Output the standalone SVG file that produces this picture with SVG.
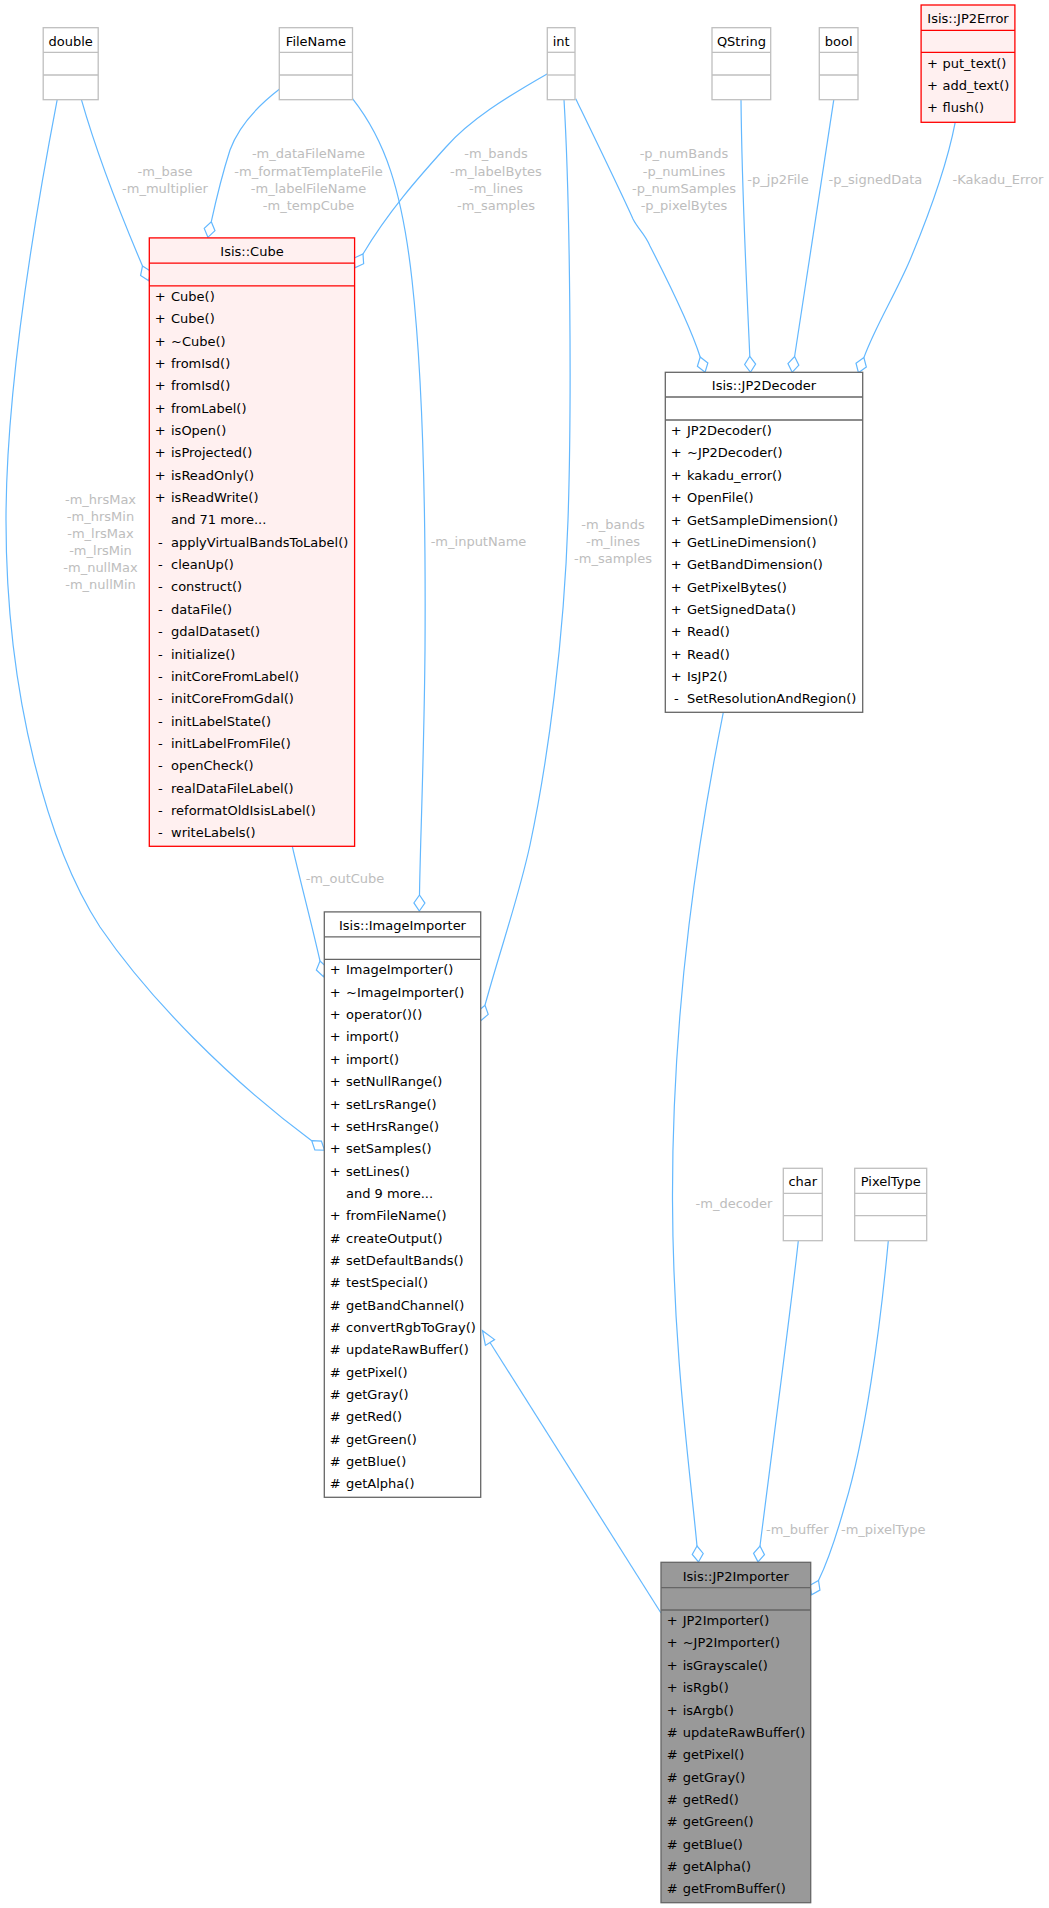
<svg xmlns="http://www.w3.org/2000/svg" width="1049" height="1908" viewBox="0 0 1049 1908">
<style>
text{font-family:"DejaVu Sans","Liberation Sans",sans-serif;font-size:13px;fill:#000}
.lbl{fill:#bdbdbd;text-anchor:middle}
.t{text-anchor:middle}
.s{text-anchor:middle}
.gb{fill:#fff;stroke:#bfbfbf;stroke-width:1.3}
.gl{stroke:#bfbfbf;stroke-width:1.3}
.rb{fill:#fff0f0;stroke:#ff0000;stroke-width:1.3}
.rl{stroke:#ff0000;stroke-width:1.3}
.wb{fill:#fff;stroke:#666;stroke-width:1.3}
.db{fill:#999;stroke:#666;stroke-width:1.3}
.dl{stroke:#666;stroke-width:1.3}
.e{fill:none;stroke:#63b8ff;stroke-width:1.2}
.agg{marker-end:url(#dia)}
.inh{marker-end:url(#tri)}
</style>
<defs>
<marker id="dia" markerUnits="userSpaceOnUse" markerWidth="18" markerHeight="13" viewBox="0 0 18 13" refX="1" refY="6.5" orient="auto" overflow="visible">
<path d="M1,6.5 L9,1 L17,6.5 L9,12 Z" fill="none" stroke="#63b8ff" stroke-width="1.2"/>
</marker>
<marker id="tri" markerUnits="userSpaceOnUse" markerWidth="16" markerHeight="13" viewBox="0 0 16 13" refX="1" refY="6.5" orient="auto" overflow="visible">
<path d="M1,1.1 L15,6.5 L1,11.9 Z" fill="#fff" stroke="#63b8ff" stroke-width="1.2"/>
</marker>
</defs>
<rect width="1049" height="1908" fill="#fff"/>

<g id="connectors">
<path class="e agg" d="M81.4,99.7 C100,165 125,225 142.5,266"/>
<path class="e agg" d="M57.2,99.7 C38,200 6,380 6,520 C6,700 50,850 100,927 C150,1000 230,1080 311.7,1140.7"/>
<path class="e agg" d="M279.3,89.3 C255,108 238,128 230,150 C222,175 216,200 211.3,221.7"/>
<path class="e agg" d="M352.5,98.7 C385,140 402,190 412,280 C422,370 426,500 425,650 C424,760 420,850 419.5,895"/>
<path class="e agg" d="M547.5,73.7 C505,98 470,120 446,147 C418,178 388,212 363,254"/>
<path class="e agg" d="M564,99.7 C570,200 572,400 568,520 C564,640 548,760 530,845 C518,900 500,950 485,1005.2"/>
<path class="e agg" d="M575.7,98.7 C585,118 620,190 633,219 C638,229 645,234 650,246 C670,285 690,325 700.2,357"/>
<path class="e agg" d="M741,99.7 C742,200 747,290 749.8,356.3"/>
<path class="e agg" d="M833.8,99.7 L794.6,356.5"/>
<path class="e agg" d="M955.2,122.3 C948,160 935,200 910,260 C895,295 875,327 863.9,357.6"/>
<path class="e agg" d="M292.3,846.3 C300,880 312,925 320,961"/>
<path class="e agg" d="M723.3,712.3 C700,830 672,1000 672.5,1200 C673,1350 690,1470 697,1546"/>
<path class="e agg" d="M798.3,1240.7 C792,1300 772,1450 760,1546"/>
<path class="e agg" d="M888.3,1240.7 C880,1330 865,1440 845,1505 C838,1530 828,1561 818.5,1580.5"/>
<path class="e inh" d="M661,1613 L490,1342.5"/>

<text class="lbl" x="165" y="175.7">-m_base</text>
<text class="lbl" x="165" y="192.7">-m_multiplier</text>
<text class="lbl" x="308.5" y="158.3">-m_dataFileName</text>
<text class="lbl" x="308.5" y="175.7">-m_formatTemplateFile</text>
<text class="lbl" x="308.5" y="192.7">-m_labelFileName</text>
<text class="lbl" x="308.5" y="209.7">-m_tempCube</text>
<text class="lbl" x="496" y="158.3">-m_bands</text>
<text class="lbl" x="496" y="175.7">-m_labelBytes</text>
<text class="lbl" x="496" y="192.7">-m_lines</text>
<text class="lbl" x="496" y="209.7">-m_samples</text>
<text class="lbl" x="684" y="158.3">-p_numBands</text>
<text class="lbl" x="684" y="175.7">-p_numLines</text>
<text class="lbl" x="684" y="192.7">-p_numSamples</text>
<text class="lbl" x="684" y="209.7">-p_pixelBytes</text>
<text class="lbl" x="778" y="184">-p_jp2File</text>
<text class="lbl" x="875.4" y="184">-p_signedData</text>
<text class="lbl" x="998" y="184">-Kakadu_Error</text>
<text class="lbl" x="100.5" y="504">-m_hrsMax</text>
<text class="lbl" x="100.5" y="521">-m_hrsMin</text>
<text class="lbl" x="100.5" y="538">-m_lrsMax</text>
<text class="lbl" x="100.5" y="555">-m_lrsMin</text>
<text class="lbl" x="100.5" y="572">-m_nullMax</text>
<text class="lbl" x="100.5" y="589">-m_nullMin</text>
<text class="lbl" x="478.5" y="546.3">-m_inputName</text>
<text class="lbl" x="613" y="529">-m_bands</text>
<text class="lbl" x="613" y="546">-m_lines</text>
<text class="lbl" x="613" y="563">-m_samples</text>
<text class="lbl" x="345" y="883">-m_outCube</text>
<text class="lbl" x="734" y="1208.3">-m_decoder</text>
<text class="lbl" x="797.3" y="1534">-m_buffer</text>
<text class="lbl" x="883.2" y="1534">-m_pixelType</text>
</g>

<g id="node-double">
<rect class="gb" x="43.2" y="27.7" width="55" height="72"/>
<line class="gl" x1="43.2" y1="52.3" x2="98.2" y2="52.3"/>
<line class="gl" x1="43.2" y1="75" x2="98.2" y2="75"/>
<text class="t" x="70.7" y="45.7">double</text>
</g>

<g id="node-FileName">
<rect class="gb" x="279.3" y="27.7" width="73.2" height="72"/>
<line class="gl" x1="279.3" y1="52.3" x2="352.5" y2="52.3"/>
<line class="gl" x1="279.3" y1="75" x2="352.5" y2="75"/>
<text class="t" x="315.9" y="45.7">FileName</text>
</g>

<g id="node-int">
<rect class="gb" x="547.3" y="27.7" width="27.7" height="72"/>
<line class="gl" x1="547.3" y1="52.3" x2="575" y2="52.3"/>
<line class="gl" x1="547.3" y1="75" x2="575" y2="75"/>
<text class="t" x="561.2" y="45.7">int</text>
</g>

<g id="node-QString">
<rect class="gb" x="712" y="27.7" width="58.7" height="72"/>
<line class="gl" x1="712" y1="52.3" x2="770.7" y2="52.3"/>
<line class="gl" x1="712" y1="75" x2="770.7" y2="75"/>
<text class="t" x="741.4" y="45.7">QString</text>
</g>

<g id="node-bool">
<rect class="gb" x="819.3" y="27.7" width="38.7" height="72"/>
<line class="gl" x1="819.3" y1="52.3" x2="858" y2="52.3"/>
<line class="gl" x1="819.3" y1="75" x2="858" y2="75"/>
<text class="t" x="838.7" y="45.7">bool</text>
</g>

<g id="node-JP2Error">
<rect class="rb" x="921.1" y="5" width="93.8" height="117.3"/>
<line class="rl" x1="921.1" y1="30.3" x2="1014.9" y2="30.3"/>
<line class="rl" x1="921.1" y1="52.3" x2="1014.9" y2="52.3"/>
<text class="t" x="968" y="22.8">Isis::JP2Error</text>
<text class="s" x="932.5" y="67.5">+</text><text x="942.5" y="67.5">put_text()</text>
<text class="s" x="932.5" y="89.8">+</text><text x="942.5" y="89.8">add_text()</text>
<text class="s" x="932.5" y="112">+</text><text x="942.5" y="112">flush()</text>
</g>

<g id="node-Cube">
<rect class="rb" x="149.3" y="237.9" width="205.3" height="608.4"/>
<line class="rl" x1="149.3" y1="263.2" x2="354.6" y2="263.2"/>
<line class="rl" x1="149.3" y1="285.8" x2="354.6" y2="285.8"/>
<text class="t" x="252" y="255.5">Isis::Cube</text>
<text class="s"><tspan x="160.3" y="300.9">+</tspan><tspan x="160.3" y="323.25">+</tspan><tspan x="160.3" y="345.6">+</tspan><tspan x="160.3" y="367.95">+</tspan><tspan x="160.3" y="390.3">+</tspan><tspan x="160.3" y="412.65">+</tspan><tspan x="160.3" y="435">+</tspan><tspan x="160.3" y="457.35">+</tspan><tspan x="160.3" y="479.7">+</tspan><tspan x="160.3" y="502.05">+</tspan><tspan x="160.3" y="546.75">-</tspan><tspan x="160.3" y="569.1">-</tspan><tspan x="160.3" y="591.45">-</tspan><tspan x="160.3" y="613.8">-</tspan><tspan x="160.3" y="636.15">-</tspan><tspan x="160.3" y="658.5">-</tspan><tspan x="160.3" y="680.85">-</tspan><tspan x="160.3" y="703.2">-</tspan><tspan x="160.3" y="725.55">-</tspan><tspan x="160.3" y="747.9">-</tspan><tspan x="160.3" y="770.25">-</tspan><tspan x="160.3" y="792.6">-</tspan><tspan x="160.3" y="814.95">-</tspan><tspan x="160.3" y="837.3">-</tspan></text>
<text><tspan x="171" y="300.9">Cube()</tspan><tspan x="171" y="323.25">Cube()</tspan><tspan x="171" y="345.6">~Cube()</tspan><tspan x="171" y="367.95">fromIsd()</tspan><tspan x="171" y="390.3">fromIsd()</tspan><tspan x="171" y="412.65">fromLabel()</tspan><tspan x="171" y="435">isOpen()</tspan><tspan x="171" y="457.35">isProjected()</tspan><tspan x="171" y="479.7">isReadOnly()</tspan><tspan x="171" y="502.05">isReadWrite()</tspan><tspan x="171" y="524.4">and 71 more...</tspan><tspan x="171" y="546.75">applyVirtualBandsToLabel()</tspan><tspan x="171" y="569.1">cleanUp()</tspan><tspan x="171" y="591.45">construct()</tspan><tspan x="171" y="613.8">dataFile()</tspan><tspan x="171" y="636.15">gdalDataset()</tspan><tspan x="171" y="658.5">initialize()</tspan><tspan x="171" y="680.85">initCoreFromLabel()</tspan><tspan x="171" y="703.2">initCoreFromGdal()</tspan><tspan x="171" y="725.55">initLabelState()</tspan><tspan x="171" y="747.9">initLabelFromFile()</tspan><tspan x="171" y="770.25">openCheck()</tspan><tspan x="171" y="792.6">realDataFileLabel()</tspan><tspan x="171" y="814.95">reformatOldIsisLabel()</tspan><tspan x="171" y="837.3">writeLabels()</tspan></text>
</g>

<g id="node-JP2Decoder">
<rect class="wb" x="665.3" y="372.3" width="197.4" height="340"/>
<line class="dl" x1="665.3" y1="397" x2="862.7" y2="397"/>
<line class="dl" x1="665.3" y1="420" x2="862.7" y2="420"/>
<text class="t" x="764" y="390.3">Isis::JP2Decoder</text>
<text class="s"><tspan x="676.3" y="435.1">+</tspan><tspan x="676.3" y="457.45">+</tspan><tspan x="676.3" y="479.8">+</tspan><tspan x="676.3" y="502.15">+</tspan><tspan x="676.3" y="524.5">+</tspan><tspan x="676.3" y="546.85">+</tspan><tspan x="676.3" y="569.2">+</tspan><tspan x="676.3" y="591.55">+</tspan><tspan x="676.3" y="613.9">+</tspan><tspan x="676.3" y="636.25">+</tspan><tspan x="676.3" y="658.6">+</tspan><tspan x="676.3" y="680.95">+</tspan><tspan x="676.3" y="703.3">-</tspan></text>
<text><tspan x="687" y="435.1">JP2Decoder()</tspan><tspan x="687" y="457.45">~JP2Decoder()</tspan><tspan x="687" y="479.8">kakadu_error()</tspan><tspan x="687" y="502.15">OpenFile()</tspan><tspan x="687" y="524.5">GetSampleDimension()</tspan><tspan x="687" y="546.85">GetLineDimension()</tspan><tspan x="687" y="569.2">GetBandDimension()</tspan><tspan x="687" y="591.55">GetPixelBytes()</tspan><tspan x="687" y="613.9">GetSignedData()</tspan><tspan x="687" y="636.25">Read()</tspan><tspan x="687" y="658.6">Read()</tspan><tspan x="687" y="680.95">IsJP2()</tspan><tspan x="687" y="703.3">SetResolutionAndRegion()</tspan></text>
</g>

<g id="node-ImageImporter">
<rect class="wb" x="324.3" y="911.9" width="156.4" height="585.4"/>
<line class="dl" x1="324.3" y1="936.8" x2="480.7" y2="936.8"/>
<line class="dl" x1="324.3" y1="959.3" x2="480.7" y2="959.3"/>
<text class="t" x="402.5" y="929.6">Isis::ImageImporter</text>
<text class="s"><tspan x="335.3" y="974.4">+</tspan><tspan x="335.3" y="996.75">+</tspan><tspan x="335.3" y="1019.1">+</tspan><tspan x="335.3" y="1041.45">+</tspan><tspan x="335.3" y="1063.8">+</tspan><tspan x="335.3" y="1086.15">+</tspan><tspan x="335.3" y="1108.5">+</tspan><tspan x="335.3" y="1130.85">+</tspan><tspan x="335.3" y="1153.2">+</tspan><tspan x="335.3" y="1175.55">+</tspan><tspan x="335.3" y="1220.25">+</tspan><tspan x="335.3" y="1242.6">#</tspan><tspan x="335.3" y="1264.95">#</tspan><tspan x="335.3" y="1287.3">#</tspan><tspan x="335.3" y="1309.65">#</tspan><tspan x="335.3" y="1332">#</tspan><tspan x="335.3" y="1354.35">#</tspan><tspan x="335.3" y="1376.7">#</tspan><tspan x="335.3" y="1399.05">#</tspan><tspan x="335.3" y="1421.4">#</tspan><tspan x="335.3" y="1443.75">#</tspan><tspan x="335.3" y="1466.1">#</tspan><tspan x="335.3" y="1488.45">#</tspan></text>
<text><tspan x="346" y="974.4">ImageImporter()</tspan><tspan x="346" y="996.75">~ImageImporter()</tspan><tspan x="346" y="1019.1">operator()()</tspan><tspan x="346" y="1041.45">import()</tspan><tspan x="346" y="1063.8">import()</tspan><tspan x="346" y="1086.15">setNullRange()</tspan><tspan x="346" y="1108.5">setLrsRange()</tspan><tspan x="346" y="1130.85">setHrsRange()</tspan><tspan x="346" y="1153.2">setSamples()</tspan><tspan x="346" y="1175.55">setLines()</tspan><tspan x="346" y="1197.9">and 9 more...</tspan><tspan x="346" y="1220.25">fromFileName()</tspan><tspan x="346" y="1242.6">createOutput()</tspan><tspan x="346" y="1264.95">setDefaultBands()</tspan><tspan x="346" y="1287.3">testSpecial()</tspan><tspan x="346" y="1309.65">getBandChannel()</tspan><tspan x="346" y="1332">convertRgbToGray()</tspan><tspan x="346" y="1354.35">updateRawBuffer()</tspan><tspan x="346" y="1376.7">getPixel()</tspan><tspan x="346" y="1399.05">getGray()</tspan><tspan x="346" y="1421.4">getRed()</tspan><tspan x="346" y="1443.75">getGreen()</tspan><tspan x="346" y="1466.1">getBlue()</tspan><tspan x="346" y="1488.45">getAlpha()</tspan></text>
</g>

<g id="node-char">
<rect class="gb" x="783.3" y="1168.3" width="39" height="72.4"/>
<line class="gl" x1="783.3" y1="1193.3" x2="822.3" y2="1193.3"/>
<line class="gl" x1="783.3" y1="1215.7" x2="822.3" y2="1215.7"/>
<text class="t" x="802.8" y="1186.3">char</text>
</g>

<g id="node-PixelType">
<rect class="gb" x="854.7" y="1168.3" width="72" height="72.4"/>
<line class="gl" x1="854.7" y1="1193.3" x2="926.7" y2="1193.3"/>
<line class="gl" x1="854.7" y1="1215.7" x2="926.7" y2="1215.7"/>
<text class="t" x="890.7" y="1186.3">PixelType</text>
</g>

<g id="node-JP2Importer">
<rect class="db" x="661" y="1562.3" width="149.7" height="340.4"/>
<line class="dl" x1="661" y1="1587.7" x2="810.7" y2="1587.7"/>
<line class="dl" x1="661" y1="1610" x2="810.7" y2="1610"/>
<text class="t" x="735.8" y="1580.5">Isis::JP2Importer</text>
<text class="s"><tspan x="672.3" y="1625.1">+</tspan><tspan x="672.3" y="1647.45">+</tspan><tspan x="672.3" y="1669.8">+</tspan><tspan x="672.3" y="1692.15">+</tspan><tspan x="672.3" y="1714.5">+</tspan><tspan x="672.3" y="1736.85">#</tspan><tspan x="672.3" y="1759.2">#</tspan><tspan x="672.3" y="1781.55">#</tspan><tspan x="672.3" y="1803.9">#</tspan><tspan x="672.3" y="1826.25">#</tspan><tspan x="672.3" y="1848.6">#</tspan><tspan x="672.3" y="1870.95">#</tspan><tspan x="672.3" y="1893.3">#</tspan></text>
<text><tspan x="682.7" y="1625.1">JP2Importer()</tspan><tspan x="682.7" y="1647.45">~JP2Importer()</tspan><tspan x="682.7" y="1669.8">isGrayscale()</tspan><tspan x="682.7" y="1692.15">isRgb()</tspan><tspan x="682.7" y="1714.5">isArgb()</tspan><tspan x="682.7" y="1736.85">updateRawBuffer()</tspan><tspan x="682.7" y="1759.2">getPixel()</tspan><tspan x="682.7" y="1781.55">getGray()</tspan><tspan x="682.7" y="1803.9">getRed()</tspan><tspan x="682.7" y="1826.25">getGreen()</tspan><tspan x="682.7" y="1848.6">getBlue()</tspan><tspan x="682.7" y="1870.95">getAlpha()</tspan><tspan x="682.7" y="1893.3">getFromBuffer()</tspan></text>
</g>
</svg>
